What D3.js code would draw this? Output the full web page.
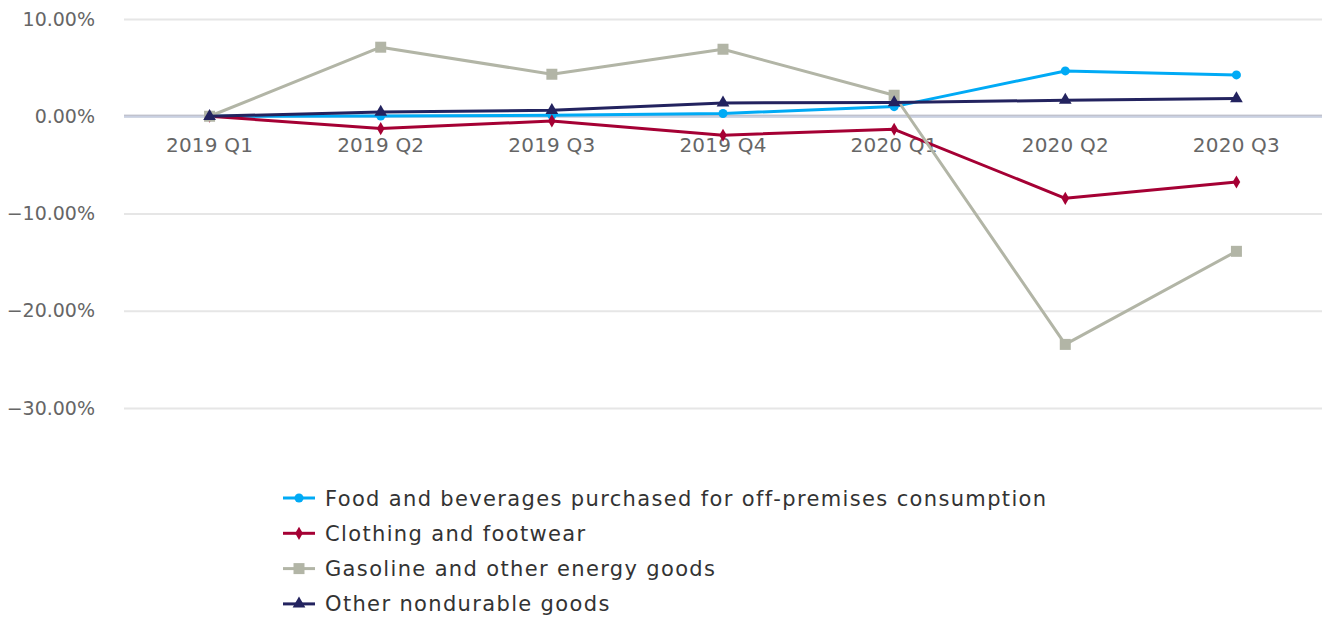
<!DOCTYPE html>
<html>
<head>
<meta charset="utf-8">
<script src="https://cdn.jsdelivr.net/npm/d3@7"></script>
<style>
  html, body { margin: 0; padding: 0; background: #fff; }
  svg { display: block; font-family: "DejaVu Sans", Verdana, sans-serif; }
</style>
</head>
<body>
<svg id="chart" width="1331" height="619"></svg>
<script>
// Quarters on the x axis
const quarters = ["2019 Q1", "2019 Q2", "2019 Q3", "2019 Q4", "2020 Q1", "2020 Q2", "2020 Q3"];

// Percent change since 2019 Q1, by category
const foodValues     = [0, 0.03, 0.10, 0.28, 0.99, 4.66, 4.25];
const clothingValues = [0, -1.27, -0.48, -1.95, -1.34, -8.44, -6.76];
const gasolineValues = [0, 7.10, 4.32, 6.89, 2.16, -23.46, -13.89];
const otherValues    = [0, 0.44, 0.62, 1.37, 1.41, 1.65, 1.82];

// y axis ticks
const yTicks = [10, 0, -10, -20, -30];

const seriesNames = [
  "Food and beverages purchased for off\u2011premises consumption",
  "Clothing and footwear",
  "Gasoline and other energy goods",
  "Other nondurable goods"
];

const series = [
  { name: seriesNames[0], values: foodValues,     color: "#00aaf5", marker: "circle" },
  { name: seriesNames[1], values: clothingValues, color: "#a50034", marker: "diamond" },
  { name: seriesNames[2], values: gasolineValues, color: "#b2b5a6", marker: "square" },
  { name: seriesNames[3], values: otherValues,    color: "#23235f", marker: "triangle" }
];

const svg = d3.select("#chart");
const plot = { left: 124, right: 1322, top: 19, bottom: 408 };

const x = d3.scaleBand().domain(quarters).range([plot.left, plot.right]);
const y = d3.scaleLinear().domain([-30, 10]).range([plot.bottom, plot.top]);
const cx = q => x(q) + x.bandwidth() / 2;

const pct = v => (v < 0 ? "\u2212" : "") + d3.format(".2f")(Math.abs(v)) + "%";

// Horizontal gridlines and y labels
const yAxis = d3.axisLeft(y).tickValues(yTicks).tickSize(-(plot.right - plot.left)).tickFormat(pct);
const gy = svg.append("g").attr("transform", `translate(${plot.left},0)`).call(yAxis);
gy.select(".domain").remove();
gy.selectAll(".tick line").attr("stroke", "#e6e6e6").attr("stroke-width", 2);
gy.selectAll(".tick text")
  .attr("x", -29).attr("fill", "#666").attr("font-size", 19)
  .attr("font-family", "DejaVu Sans, sans-serif");

// Zero line
svg.append("line")
  .attr("x1", plot.left).attr("x2", plot.right)
  .attr("y1", y(0)).attr("y2", y(0))
  .attr("stroke", "#c9d0e2").attr("stroke-width", 3);
svg.append("line")
  .attr("x1", plot.left).attr("x2", plot.right)
  .attr("y1", y(0) - 1).attr("y2", y(0) - 1)
  .attr("stroke", "#bdbdc6").attr("stroke-width", 1);

// x labels
const xAxis = d3.axisBottom(x).tickSize(0);
const gx = svg.append("g").attr("transform", `translate(0,${y(0)})`).call(xAxis);
gx.select(".domain").remove();
gx.selectAll(".tick text")
  .attr("y", 22).attr("dy", "0.71em").attr("fill", "#666").attr("font-size", 20)
  .attr("letter-spacing", 0.2)
  .attr("font-family", "DejaVu Sans, sans-serif");

// Marker shapes
const symbolFor = {
  circle: d3.symbol().type(d3.symbolCircle).size(64),
  diamond: d3.symbol().type(d3.symbolDiamond).size(50),
  square: d3.symbol().type(d3.symbolSquare).size(121),
  triangle: d3.symbol().type(d3.symbolTriangle).size(70)
};

const line = d3.line().x((d, i) => cx(quarters[i])).y(d => y(d));

series.forEach(s => {
  const g = svg.append("g");
  g.append("path")
    .attr("d", line(s.values))
    .attr("fill", "none").attr("stroke", s.color).attr("stroke-width", 3)
    .attr("stroke-linejoin", "round").attr("stroke-linecap", "round");
  g.selectAll("path.pt").data(s.values).join("path")
    .attr("class", "pt")
    .attr("d", symbolFor[s.marker]())
    .attr("transform", (d, i) => `translate(${cx(quarters[i])},${y(d)})`)
    .attr("fill", s.color);
});

// Legend
const legend = svg.append("g").attr("transform", "translate(283,498)");
series.forEach((s, i) => {
  const row = legend.append("g").attr("transform", `translate(0,${i * 35.3})`);
  row.append("line").attr("x1", 0).attr("x2", 32).attr("y1", 0).attr("y2", 0)
    .attr("stroke", s.color).attr("stroke-width", 3);
  row.append("path").attr("d", symbolFor[s.marker]()).attr("transform", "translate(16,0)")
    .attr("fill", s.color);
  row.append("text").attr("x", 42).attr("dy", "0.36em")
    .attr("font-size", 21).attr("fill", "#333").attr("letter-spacing", 1.35)
    .text(s.name);
});
</script>
</body>
</html>
